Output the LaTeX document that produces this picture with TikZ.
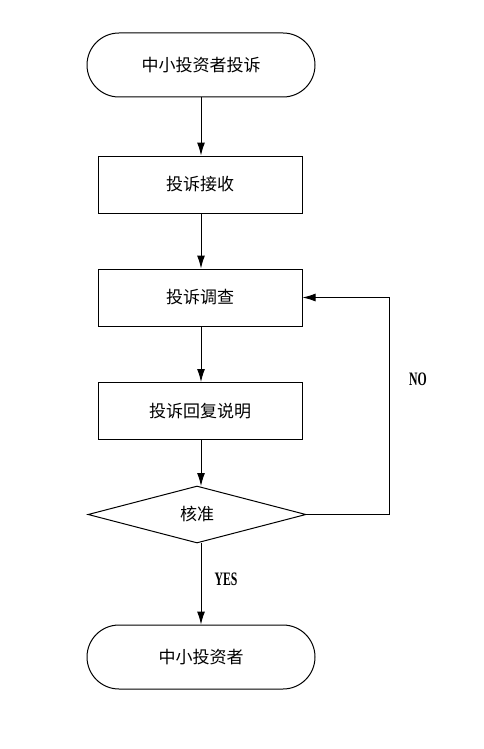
\documentclass[tikz,border=0pt]{standalone}
\usepackage{fontspec}
\usepackage{graphicx}
\setmainfont{Liberation Serif}
\newfontfamily\cjk{Noto Sans CJK SC}
\newfontfamily\lblfont{Liberation Serif Bold}
\usetikzlibrary{shapes.geometric,shapes.misc,arrows.meta}
\newcommand{\narrowlbl}[1]{\scalebox{0.62}[1]{#1}}
\tikzset{
  base/.style={draw=black, line width=1pt, font=\cjk\fontsize{17}{19}\selectfont, inner sep=0pt},
  term/.style={base, rounded rectangle, minimum width=228pt, minimum height=64pt},
  procbox/.style={base, rectangle, minimum width=204pt, minimum height=57pt},
  decision/.style={base, diamond, aspect=3.8, minimum width=218pt, minimum height=57pt},
  conn/.style={line width=1pt, -{Latex[length=13pt,width=8pt]}},
  lbl/.style={font=\lblfont\fontsize{19}{21}\selectfont, inner sep=0pt}
}
\begin{document}
\begin{tikzpicture}[x=1pt,y=-1pt]
\useasboundingbox (0,0) rectangle (483,749);
\node[term] (start) at (201,65) {中小投资者投诉};
\node[procbox] (recv) at (200,184.5) {投诉接收};
\node[procbox] (inv) at (200,297.5) {投诉调查};
\node[procbox] (reply) at (200,411) {投诉回复说明};
\node[decision] (chk) at (197,514.5) {核准};
\node[term] (end) at (201,657) {中小投资者};
\draw[conn] (start.south -| 201,0) -- (recv.north -| 201,0);
\draw[conn] (recv.south -| 201,0) -- (inv.north -| 201,0);
\draw[conn] (inv.south -| 201,0) -- (reply.north -| 201,0);
\draw[conn] (reply.south -| 201,0) -- (201,486);
\draw[conn] (201,543) -- (end.north -| 201,0);
\coordinate (turn) at (389,514.5);
\draw[conn] (chk.east) -- (turn) |- (inv.east);
\node[lbl] (no) at (418,379) {\narrowlbl{NO}};
\node[lbl] (yes) at (226,579) {\narrowlbl{YES}};
\end{tikzpicture}
\end{document}
